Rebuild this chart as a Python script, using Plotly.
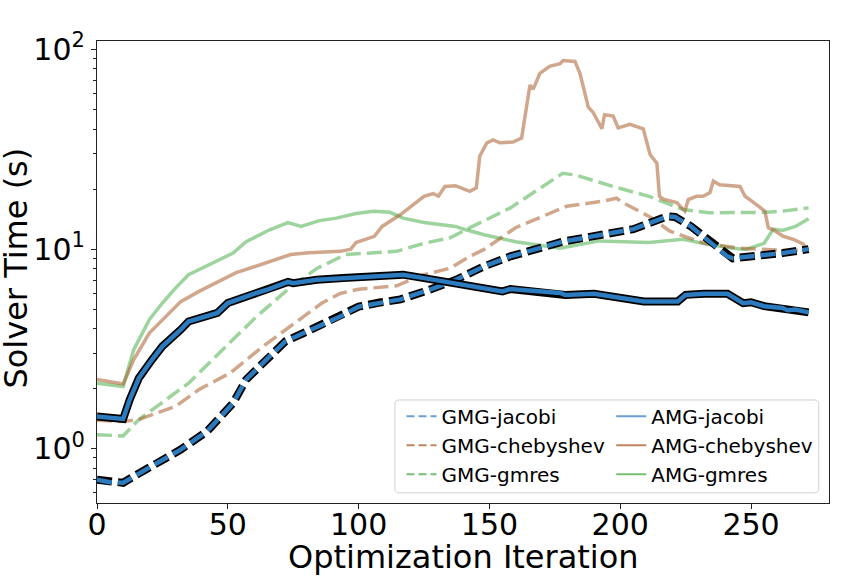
import plotly.graph_objects as go

# ---------------- data ----------------
x_amg_jacobi = [0, 5, 10, 12.5, 16, 21, 25, 32, 35, 46, 50, 61, 66, 73, 75, 84, 94, 108, 117, 125,
                137, 155, 158, 177, 179, 190, 209, 222, 225, 232, 241, 247, 250, 255, 262, 264, 267, 272]
y_amg_jacobi = [1.45, 1.43, 1.41, 1.76, 2.26, 2.79, 3.26, 3.95, 4.34, 4.79, 5.37, 6.03, 6.32, 6.85, 6.75,
                7.03, 7.16, 7.36, 7.45, 7.16, 6.76, 6.14, 6.31, 6.03, 5.9, 5.98, 5.47, 5.47, 5.9, 5.98,
                5.98, 5.36, 5.42, 5.18, 5.07, 4.94, 4.98, 4.82]

x_gmg_jacobi = [0, 5, 10, 14, 23, 32, 42, 52, 57, 66, 72, 79, 93, 100, 108, 116, 127, 137, 148, 158,
                178, 205, 218, 221, 227, 241, 243, 262, 272]
y_gmg_jacobi = [0.70, 0.68, 0.675, 0.726, 0.848, 0.99, 1.22, 1.69, 2.22, 2.90, 3.45, 3.80, 4.6, 5.15,
                5.4, 5.6, 6.25, 7.0, 8.2, 9.2, 10.9, 12.6, 14.6, 14.5, 13.0, 9.2, 9.0, 9.55, 10.0]

x_amg_cheb = [0, 5, 10, 14, 20, 32, 39, 53, 64, 74, 81, 93, 97, 99, 106, 109, 116, 120, 125, 128.5,
              130.5, 133, 137, 142.5, 145, 146.3, 149, 151.4, 154, 159, 162.3, 165.5, 166.7, 169.3,
              173, 177, 178.2, 182.7, 184.6, 187.8, 189.7, 193, 194, 197.3, 199.2, 203.7, 208.8,
              211.4, 214, 215, 216.5, 221.6, 224.7, 226, 229.2, 231.7, 234.3, 235.6, 238, 245.8,
              247.7, 250.3, 252.2, 255.3, 256.6, 258.5, 262.3, 266.2, 270, 271.3]
y_amg_cheb = [2.22, 2.16, 2.11, 2.79, 3.8, 5.46, 6.14, 7.6, 8.5, 9.4, 9.6, 9.75, 10.0, 10.8, 11.6,
              13.0, 14.9, 16.4, 18.4, 19.0, 18.4, 20.6, 20.8, 19.5, 20.3, 29.2, 34.1, 35.3, 34.1,
              34.4, 36.0, 66.5, 63.2, 76.0, 82.5, 84.9, 88.2, 87.2, 76.0, 51.4, 48.3, 40.1, 47.1,
              46.4, 40.5, 42.2, 40.1, 29.8, 27.0, 18.4, 17.8, 17.1, 15.5, 17.7, 18.4, 18.4, 19.2,
              21.9, 21.0, 20.6, 18.4, 17.4, 16.7, 15.5, 12.8, 12.5, 11.6, 11.2, 10.6, 9.6]

x_gmg_cheb = [0, 5, 10, 16, 30, 39, 51, 63.5, 74, 86, 93, 100, 114.5, 125, 135, 142.5, 148, 160,
              179.5, 188, 193.5, 198.6, 201, 211.4, 219, 232, 246, 262, 272]
y_gmg_cheb = [1.39, 1.38, 1.37, 1.40, 1.63, 1.98, 2.40, 3.26, 4.10, 5.37, 6.0, 6.3, 6.55, 7.45,
              8.03, 9.2, 9.97, 12.8, 16.4, 16.9, 17.4, 18.0, 17.1, 14.5, 12.3, 10.7, 10.1, 9.86, 9.86]

x_amg_gmres = [0, 5, 10, 14, 20, 25, 30, 35, 44, 52, 57, 66, 73, 78, 85, 91.5, 99, 105.6, 112, 117,
               125, 137, 141, 148, 160, 177, 192, 211, 224, 233, 243, 248, 255, 258.5, 262, 267, 272]
y_amg_gmres = [2.13, 2.09, 2.05, 3.13, 4.43, 5.37, 6.38, 7.45, 8.5, 9.55, 10.9, 12.5, 13.6, 13.0,
               13.9, 14.3, 15.1, 15.5, 15.3, 14.3, 13.6, 13.0, 12.5, 11.8, 10.9, 10.1, 11.0, 10.8,
               11.2, 10.6, 10.1, 9.97, 10.7, 12.6, 12.4, 13.0, 14.2]

x_gmg_gmres = [0, 5, 10, 16, 23, 35, 48, 61, 74, 84, 95, 114.5, 125, 135, 142.5, 158, 178, 183,
               199, 211, 224, 234, 256, 262, 272]
y_gmg_gmres = [1.175, 1.17, 1.16, 1.40, 1.63, 2.13, 3.13, 4.6, 6.45, 8.0, 9.4, 9.75, 10.7, 11.4,
               12.8, 16.1, 24.0, 23.5, 20.3, 18.4, 15.8, 15.2, 15.3, 15.5, 16.1]

x_ticks = [0, 50, 100, 150, 200, 250]
y_ticks = [1, 10, 100]
y_ticktext = ["10<sup>0</sup>", "10<sup>1</sup>", "10<sup>2</sup>"]
y_minor = [0.6, 0.7, 0.8, 0.9, 2, 3, 4, 5, 6, 7, 8, 9, 20, 30, 40, 50, 60, 70, 80, 90]

legend_gmg = ["GMG-jacobi", "GMG-chebyshev", "GMG-gmres"]
legend_amg = ["AMG-jacobi", "AMG-chebyshev", "AMG-gmres"]
legend_colors = ["#6a9fd0", "#c0845e", "#75c075"]

x_title = "Optimization Iteration"
y_title = "Solver Time (s)"

# ---------------- styles ----------------
FONT = "DejaVu Sans"
BLUE = "#2c7bbf"
BROWN = "rgba(170,95,45,0.55)"
GREEN = "rgba(60,170,60,0.5)"
DASH = "15px,6px"

fig = go.Figure()

def add_line(x, y, color, width, dash=None):
    fig.add_trace(go.Scatter(x=x, y=y, mode="lines", showlegend=False, hoverinfo="skip",
                             line=dict(color=color, width=width, dash=dash or "solid")))

# faded series first
add_line(x_amg_gmres, y_amg_gmres, GREEN, 3.5)
add_line(x_gmg_gmres, y_gmg_gmres, GREEN, 3.5, DASH)
add_line(x_amg_cheb, y_amg_cheb, BROWN, 3.5)
add_line(x_gmg_cheb, y_gmg_cheb, BROWN, 3.5, DASH)

# jacobi series with black outline
add_line(x_gmg_jacobi, y_gmg_jacobi, "black", 8, DASH)
add_line(x_gmg_jacobi, y_gmg_jacobi, BLUE, 4.5, DASH)
add_line(x_amg_jacobi, y_amg_jacobi, "black", 8)
add_line(x_amg_jacobi, y_amg_jacobi, BLUE, 4.5)

# legend entries
for name, col in zip(legend_gmg, legend_colors):
    fig.add_trace(go.Scatter(x=[None], y=[None], mode="lines", name=name, legend="legend",
                             line=dict(color=col, width=2.2, dash="8px,4px")))
for name, col in zip(legend_amg, legend_colors):
    fig.add_trace(go.Scatter(x=[None], y=[None], mode="lines", name=name, legend="legend2",
                             line=dict(color=col, width=2.2)))

# legend frame (rounded rectangle in paper coordinates)
x0, x1, y0, y1 = 0.407, 0.986, 0.022, 0.223
rx, ry = 0.006, 0.009
path = (f"M{x0+rx},{y0} L{x1-rx},{y0} Q{x1},{y0} {x1},{y0+ry} L{x1},{y1-ry} "
        f"Q{x1},{y1} {x1-rx},{y1} L{x0+rx},{y1} Q{x0},{y1} {x0},{y1-ry} "
        f"L{x0},{y0+ry} Q{x0},{y0} {x0+rx},{y0} Z")
fig.add_shape(type="path", path=path, xref="paper", yref="paper", layer="above",
              line=dict(color="#d0d0d0", width=1), fillcolor="rgba(255,255,255,0.8)")

# axis titles as annotations
fig.add_annotation(text=x_title, xref="paper", yref="paper", x=0.5, y=-0.117,
                   xanchor="center", yanchor="middle", showarrow=False,
                   font=dict(family=FONT, size=32, color="black"))
fig.add_annotation(text=y_title, xref="paper", yref="paper", x=-0.111, y=0.509,
                   xanchor="center", yanchor="middle", showarrow=False, textangle=-90,
                   font=dict(family=FONT, size=32, color="black"))

axis_common = dict(showline=True, linecolor="#222222", linewidth=1.2, mirror=True,
                   ticks="outside", ticklen=5, tickwidth=1.2, tickcolor="#222222",
                   showgrid=False, zeroline=False, automargin=False,
                   tickfont=dict(family=FONT, size=30, color="black"))

legend_common = dict(xanchor="left", yanchor="top", bgcolor="rgba(0,0,0,0)",
                     borderwidth=0, font=dict(family=FONT, size=20, color="black"),
                     tracegroupgap=0, itemwidth=30)

fig.update_layout(
    width=864, height=576,
    margin=dict(l=97, r=35, t=41, b=73),
    plot_bgcolor="white", paper_bgcolor="white",
    font=dict(family=FONT, color="black"),
    xaxis=dict(range=[0, 279.8], tickmode="array", tickvals=x_ticks,
               ticklabelstandoff=-10, **axis_common),
    yaxis=dict(type="log", range=[-0.272, 2.043], tickmode="array", tickvals=y_ticks,
               ticktext=y_ticktext,
               minor=dict(tickvals=y_minor, ticks="outside", ticklen=3, tickwidth=1,
                          tickcolor="#222222", showgrid=False),
               **axis_common),
    legend=dict(x=0.416, y=0.230, **legend_common),
    legend2=dict(x=0.7025, y=0.230, **legend_common),
)

fig.write_html("out.html", config={"displayModeBar": False},
               post_script="document.body.style.margin='0';document.body.style.overflow='hidden';")
